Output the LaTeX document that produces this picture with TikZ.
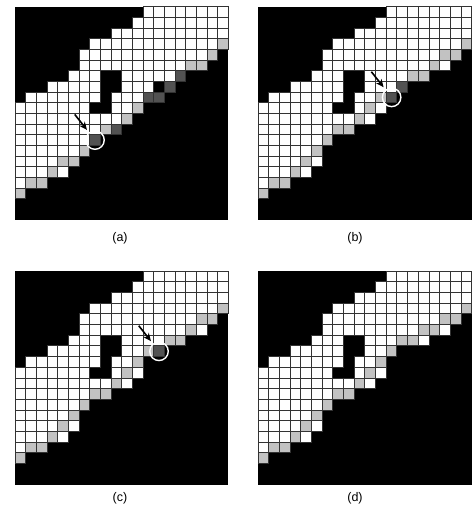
\documentclass[tikz,border=0pt]{standalone}
\usepackage{fontspec}
\setmainfont{Liberation Sans}
\usetikzlibrary{arrows.meta}
\tikzset{
  wc/.style={fill=white,draw=black!80,line width=0.95pt},
  gc/.style={fill=black!24,draw=black!80,line width=0.95pt},
  dc/.style={fill=black!68,draw=black!80,line width=0.95pt},
  ring/.style={circle,draw=white,line width=1.4pt,minimum size=18.5pt,inner sep=0pt},
  pointer/.style={line width=1.6pt,-{Stealth[length=8pt,width=7pt]},shorten >=3pt},
  lab/.style={font=\fontsize{12.5}{15}\selectfont,inner sep=0pt},
  panel/.style={x=10.667pt,y=-10.667pt},
}
\newcommand\whiteruns[1]{\foreach \r/\a/\b in {#1} {\foreach \c in {\a,...,\b} {\draw[wc] (\c,\r) rectangle ++(1,1);}}}
\newcommand\graycells[1]{\foreach \r/\c in {#1} {\draw[gc] (\c,\r) rectangle ++(1,1);}}
\newcommand\darkcells[1]{\foreach \r/\c in {#1} {\draw[dc] (\c,\r) rectangle ++(1,1);}}
\begin{document}
\begin{tikzpicture}[x=1pt,y=-1pt]
\fill[white] (0,0) rectangle (472,520);
\useasboundingbox (0,0) rectangle (472,520);

% ---------- panel (a)
\begin{scope}[shift={(15pt,-6.7pt)},panel]
\fill[black] (0,0) rectangle (20,20);
\whiteruns{0/12/19,1/11/19,2/9/19,3/7/18,4/6/17,5/6/15,6/5/7,6/10/14,7/3/7,7/10/12,8/1/7,8/9/11,9/0/6,9/9/10,10/0/9,11/0/7,12/0/6,13/0/5,14/0/3,15/0/2,15/4/4,16/0/0}
\graycells{3/19,4/18,5/16,5/17,9/11,10/10,11/8,13/6,14/4,14/5,15/3,16/1,16/2,17/0}
\darkcells{6/15,7/14,8/12,8/13,11/9,12/7}
\node[ring] (ca) at (7.5,12.5) {};
\coordinate (ta) at (5.6,10.1);
\draw[pointer] (ta) -- (ca);
\end{scope}

% ---------- panel (b)
\begin{scope}[shift={(258.3pt,-6.7pt)},panel]
\fill[black] (0,0) rectangle (20,20);
\whiteruns{0/12/19,1/11/19,2/9/19,3/7/18,4/6/16,5/6/15,5/17/17,6/5/7,6/10/13,7/3/7,7/10/12,8/1/7,8/9/10,9/0/6,9/9/9,9/11/11,10/0/8,10/10/10,11/0/6,12/0/5,13/0/4,14/0/3,14/5/5,15/0/2,15/4/4,16/0/0}
\graycells{3/19,4/17,4/18,5/16,6/14,6/15,8/11,9/10,10/9,11/7,11/8,12/6,13/5,14/4,15/3,16/1,16/2,17/0}
\darkcells{7/13,8/12}
\node[ring] (cb) at (12.5,8.5) {};
\coordinate (tb) at (10.6,6.1);
\draw[pointer] (tb) -- (cb);
\end{scope}

% ---------- panel (c)
\begin{scope}[shift={(15pt,-271.3pt)},panel]
\fill[black] (0,0) rectangle (20,20);
\whiteruns{0/12/19,1/11/19,2/9/19,3/7/18,4/6/16,5/6/15,5/17/17,6/5/7,6/10/13,7/3/7,7/10/11,8/1/7,8/9/10,9/0/6,9/9/9,9/11/11,10/0/8,10/10/10,11/0/6,12/0/5,13/0/4,14/0/3,14/5/5,15/0/2,15/4/4,16/0/0}
\graycells{3/19,4/17,4/18,5/16,6/14,6/15,7/12,8/11,9/10,10/9,11/7,11/8,12/6,13/5,14/4,15/3,16/1,16/2,17/0}
\darkcells{7/13}
\node[ring] (cc) at (13.5,7.5) {};
\coordinate (tc) at (11.6,5.1);
\draw[pointer] (tc) -- (cc);
\end{scope}

% ---------- panel (d)
\begin{scope}[shift={(258.3pt,-271.3pt)},panel]
\fill[black] (0,0) rectangle (20,20);
\whiteruns{0/12/19,1/11/19,2/9/19,3/7/18,4/6/16,5/6/14,5/17/17,6/5/7,6/10/12,6/15/15,7/3/7,7/10/11,8/1/7,8/9/10,9/0/6,9/9/9,9/11/11,10/0/8,10/10/10,11/0/6,12/0/5,13/0/4,14/0/3,14/5/5,15/0/2,15/4/4,16/0/0}
\graycells{3/19,4/17,4/18,5/15,5/16,6/13,6/14,7/12,8/11,9/10,10/9,11/7,11/8,12/6,13/5,14/4,15/3,16/1,16/2,17/0}
\end{scope}

\node[lab] (la) at (120,238) {(a)};
\node[lab] (lb) at (355,238) {(b)};
\node[lab] (lc) at (120,498) {(c)};
\node[lab] (ld) at (355,498) {(d)};
\end{tikzpicture}
\end{document}
